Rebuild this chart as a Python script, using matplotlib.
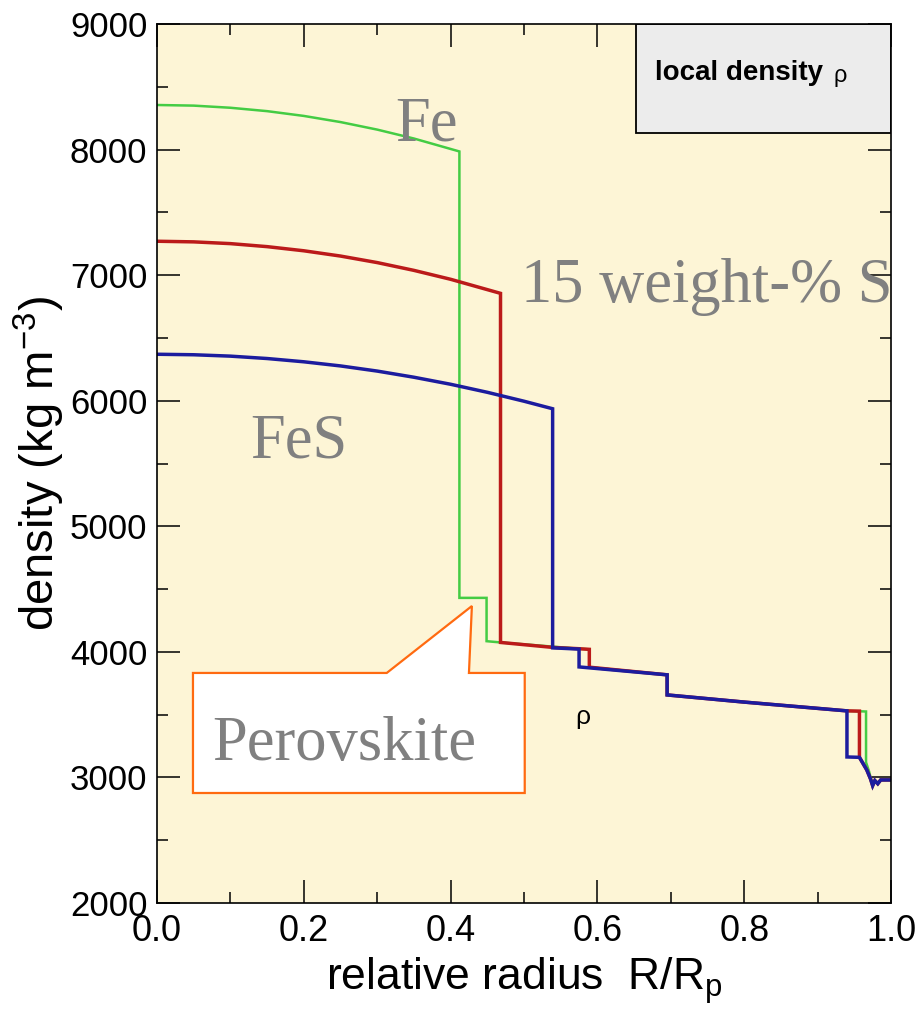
import matplotlib
matplotlib.use("Agg")
import matplotlib.pyplot as plt
from matplotlib.patches import Rectangle, Polygon
from matplotlib.ticker import MultipleLocator

# Relative radius R/Rp and local density (kg m^-3) for the three core compositions
fe_r = [0.0, 0.05, 0.10, 0.15, 0.20, 0.25, 0.30, 0.35, 0.412, 0.412, 0.449, 0.449,
        0.468, 0.575, 0.589, 0.589, 0.695, 0.695, 0.80, 0.94, 0.966, 0.966,
        0.970, 0.975, 0.978, 0.982, 0.986, 1.0]
fe_rho = [8355, 8350, 8333, 8306, 8268, 8219, 8159, 8088, 7985, 4430, 4430, 4085,
          4075, 4025, 4020, 3878, 3817, 3657, 3600, 3530, 3525, 3120,
          3050, 2935, 2975, 2950, 2980, 2980]

fes15_r = [0.0, 0.05, 0.10, 0.15, 0.20, 0.25, 0.30, 0.35, 0.40, 0.468, 0.468,
           0.54, 0.575, 0.589, 0.589, 0.695, 0.695, 0.80, 0.94, 0.957, 0.957,
           0.962, 0.967, 0.972, 0.975, 0.978, 0.982, 0.986, 1.0]
fes15_rho = [7270, 7265, 7251, 7227, 7194, 7152, 7100, 7038, 6967, 6855, 4075,
             4035, 4025, 4020, 3878, 3817, 3657, 3600, 3530, 3528, 3160,
             3110, 3060, 2990, 2935, 2975, 2950, 2980, 2980]

fes_r = [0.0, 0.05, 0.10, 0.15, 0.20, 0.25, 0.30, 0.35, 0.40, 0.45, 0.50, 0.539,
         0.539, 0.575, 0.575, 0.695, 0.695, 0.80, 0.94, 0.94, 0.957,
         0.962, 0.967, 0.972, 0.975, 0.978, 0.982, 0.986, 1.0]
fes_rho = [6370, 6366, 6355, 6336, 6310, 6277, 6236, 6187, 6131, 6067, 5996, 5936,
           4032, 4022, 3880, 3817, 3657, 3600, 3530, 3163, 3160,
           3110, 3060, 2990, 2935, 2975, 2950, 2980, 2980]

x_ticks = [0.0, 0.2, 0.4, 0.6, 0.8, 1.0]
x_tick_labels = ["0.0", "0.2", "0.4", "0.6", "0.8", "1.0"]
y_ticks = [2000, 3000, 4000, 5000, 6000, 7000, 8000, 9000]

BG = "#fdf5d6"
GREEN = "#44cc44"
RED = "#bb1a1a"
BLUE = "#1c1c9e"
GREY_TEXT = "#808080"
ORANGE = "#ff6a10"

fig = plt.figure(figsize=(9.2, 10.13), dpi=100)
ax = fig.add_axes([157 / 920, 110 / 1013, 734 / 920, 879 / 1013])
ax.set_facecolor(BG)

ax.plot(fe_r, fe_rho, color=GREEN, lw=1.8, zorder=3, solid_joinstyle="miter")
ax.plot(fes15_r, fes15_rho, color=RED, lw=2.5, zorder=4, solid_joinstyle="miter")
ax.plot(fes_r, fes_rho, color=BLUE, lw=2.5, zorder=5, solid_joinstyle="miter")

ax.set_xlim(0, 1)
ax.set_ylim(2000, 9000)
ax.set_xticks(x_ticks)
ax.set_xticklabels(x_tick_labels)
ax.set_yticks(y_ticks)
ax.xaxis.set_minor_locator(MultipleLocator(0.1))
ax.yaxis.set_minor_locator(MultipleLocator(500))
ax.tick_params(which="both", direction="in", top=True, right=True, width=1.1,
               color="black")
ax.tick_params(which="major", length=16.5)
ax.tick_params(which="minor", length=8)
ax.tick_params(axis="x", which="major", pad=8, labelsize=26)
ax.tick_params(axis="y", which="major", pad=7, labelsize=25)
for lab in ax.get_xticklabels() + ax.get_yticklabels():
    lab.set_family("Liberation Sans")
for sp in ax.spines.values():
    sp.set_linewidth(1.2)
    sp.set_zorder(10)

ax.set_xlabel(r"relative radius  R/R$_\mathregular{p}$", family="Liberation Sans",
              fontsize=32, labelpad=4)
ax.set_ylabel(r"density (kg m$^\mathregular{-3}$)", family="Liberation Sans",
              fontsize=34, labelpad=2)

# Panel title box in the upper right corner
ax.add_patch(Rectangle((0.653, 0.876), 0.347, 0.124, transform=ax.transAxes,
                       facecolor="#ececec", edgecolor="black", lw=1.3, zorder=8))
ax.text(0.678, 0.944, "local density", transform=ax.transAxes, ha="left",
        va="center", fontsize=20, fontweight="bold", family="Liberation Sans",
        zorder=9)
ax.text(0.922, 0.941, "ρ", transform=ax.transAxes, ha="left", va="center",
        fontsize=17, family="Liberation Sans", zorder=9)

ax.text(0.580, 3481, "ρ", ha="center", va="center", fontsize=19,
        family="Liberation Sans", zorder=6)

serif = dict(family="Liberation Serif", color=GREY_TEXT, fontsize=45,
             ha="left", va="baseline", zorder=7)
ax.text(0.324, 8076, "Fe", **serif)
ax.text(0.127, 5544, "FeS", **serif)
ax.text(0.496, 6786, "15 weight-% S", clip_on=False, **serif)

# Speech-bubble callout
bubble = [(0.049, 3832), (0.313, 3832), (0.429, 4365), (0.425, 3832),
          (0.501, 3832), (0.501, 2876), (0.049, 2876)]
ax.add_patch(Polygon(bubble, closed=True, facecolor="white", edgecolor=ORANGE,
                     lw=1.6, zorder=6))
ax.text(0.075, 3139, "Perovskite", **serif)

fig.savefig("out.png", dpi=100, facecolor="white")
